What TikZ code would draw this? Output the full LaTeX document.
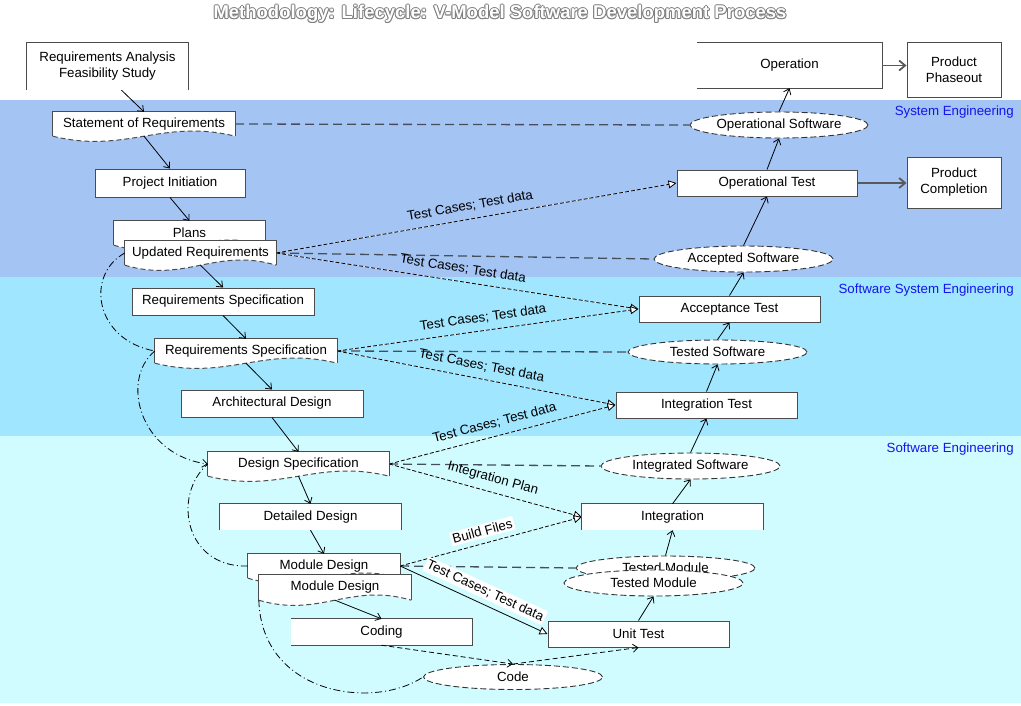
\documentclass[tikz,border=0pt]{standalone}
\usepackage{fontspec}
\setmainfont{Liberation Sans}
\usepackage{tikz}
\usetikzlibrary{positioning}
\usetikzlibrary{shapes.geometric, arrows.meta}
\usetikzlibrary{calc}

\definecolor{sysband}{RGB}{164,196,244}
\definecolor{swsysband}{RGB}{160,230,255}
\definecolor{swband}{RGB}{208,252,255}
\definecolor{flowgray}{RGB}{70,78,92}
\definecolor{bandtext}{RGB}{20,20,235}

\newcommand{\diagfont}{\fontsize{13.3}{16}\selectfont}

\pgfdeclarelayer{bands}
\pgfdeclarelayer{docs}
\pgfsetlayers{bands,docs,main}

\tikzstyle{arrow} = [line width=0.8pt,-{Straight Barb[length=5pt,width=8pt]}]
\tikzstyle{thickarrow} = [line width=1.8pt,draw=black!65,-{Straight Barb[length=6pt,width=10pt]}]
\tikzstyle{testflow} = [line width=0.8pt,preaction={draw=white,solid,-},dash pattern=on 4pt off 2pt,-{Triangle[length=8pt,width=8pt,fill=white]}]
\tikzstyle{testsolid} = [line width=0.8pt,-{Triangle[length=8pt,width=8pt,fill=white]}]
\tikzstyle{objflow} = [line width=1.3pt,draw=flowgray,dash pattern=on 9pt off 5pt]
\tikzstyle{feedback} = [line width=0.8pt,dash pattern=on 7pt off 3pt on 1pt off 3pt]
\tikzstyle{codeflow} = [dash pattern=on 5pt off 3pt]
\tikzstyle{boxline} = [line width=1pt,draw=black!70]
\tikzstyle{process} = [draw=black!70,line width=1pt,fill=white,minimum width=181pt,minimum height=26pt,inner sep=0pt,font=\diagfont]
\tikzstyle{openbox} = [fill=white,minimum width=181pt,minimum height=26pt,inner sep=0pt,font=\diagfont]
\tikzstyle{docnode} = [minimum height=24pt,inner sep=0pt,font=\diagfont]
\tikzstyle{product} = [ellipse,draw=black!80,line width=0.9pt,dash pattern=on 6pt off 3pt,fill=white,minimum width=179pt,minimum height=26pt,inner xsep=-12pt,inner ysep=0pt,font=\diagfont]
\tikzstyle{flowlabel} = [sloped,above=5pt,inner sep=2pt,font=\diagfont]
\tikzstyle{bandlabel} = [anchor=east,inner sep=0pt,text=bandtext,font=\diagfont]
\tikzstyle{titletext} = [inner sep=0pt,font=\fontsize{18.5}{21}\selectfont\bfseries]

% document shape with a wavy dashed bottom edge
\newcommand{\docshape}[1]{%
  \fill[white] (#1.south west) |- (#1.north east) -- (#1.south east)
    .. controls ($(#1.south east)!0.4!(#1.south west)+(0,-18)$) and ($(#1.south west)!0.4!(#1.south east)+(0,18)$) .. (#1.south west) -- cycle;
  \draw[boxline] (#1.south west) |- (#1.north east) -- (#1.south east);
  \draw[boxline,dash pattern=on 5pt off 3pt] (#1.south west)
    .. controls ($(#1.south west)!0.4!(#1.south east)+(0,18)$) and ($(#1.south east)!0.4!(#1.south west)+(0,-18)$) .. (#1.south east);
}

\begin{document}
\begin{tikzpicture}[x=1pt,y=-1pt]
\useasboundingbox (0,0) rectangle (1021,705);

%Bands
\begin{pgfonlayer}{bands}
\fill[sysband] (0,100) rectangle (1021,277);
\fill[swsysband] (0,277) rectangle (1021,436);
\fill[swband] (0,436) rectangle (1021,703);
\end{pgfonlayer}
\node[bandlabel] (syseng) at (1014,112) {System Engineering};
\node[bandlabel] (swsyseng) at (1014,290) {Software System Engineering};
\node[bandlabel] (sweng) at (1014,449) {Software Engineering};

%Title
\coordinate (titlepos) at (500,14);
\foreach \dx/\dy in {-1/0,1/0,0/-1,0/1,-0.7/-0.7,0.7/0.7,-0.7/0.7,0.7/-0.7}
  \node[titletext,text=black!50] at ([shift={(\dx,\dy)}]titlepos) {Methodology: Lifecycle: V-Model Software Development Process};
\node[titletext,text=white] (title) at (titlepos) {Methodology: Lifecycle: V-Model Software Development Process};

%Nodes - left side
\node[openbox,minimum width=161pt,minimum height=47pt,align=center] (reqan) at (107.5,66.5) {Requirements Analysis\\Feasibility Study};
\node[docnode,minimum width=182pt] (sor) at (144,124) {Statement of Requirements};
\node[process,minimum width=150pt,minimum height=28pt] (projinit) at (170,183) {Project Initiation};
\node[docnode,minimum width=151pt] (plans) at (189.5,233) {Plans};
\node[docnode,minimum width=151pt] (updreq) at (200.5,253) {Updated Requirements};
\node[process,minimum width=182pt,minimum height=27pt] (reqspec) at (223,301.5) {Requirements Specification};
\node[docnode,minimum width=182pt] (rsdoc) at (246,351) {Requirements Specification};
\node[process,minimum width=182pt,minimum height=27pt] (archdes) at (272,403.5) {Architectural Design};
\node[docnode,minimum width=181pt] (desspec) at (298.5,464) {Design Specification};
\node[openbox] (detdes) at (310.5,517) {Detailed Design};
\node[docnode,minimum width=152pt] (moddes) at (324,566) {Module Design};
\node[docnode,minimum width=152pt,minimum height=25pt] (moddesdoc) at (335,587.5) {Module Design};
\node[openbox] (coding) at (381.5,632) {Coding};

\begin{pgfonlayer}{docs}
\docshape{sor}
\docshape{plans}
\docshape{updreq}
\docshape{rsdoc}
\docshape{desspec}
\docshape{moddes}
\docshape{moddesdoc}
\end{pgfonlayer}

% open edges
\draw[boxline] (reqan.south west) |- (reqan.north east) -- (reqan.south east);
\draw[boxline] (detdes.south west) |- (detdes.north east) -- (detdes.south east);
\draw[boxline] (coding.north west) -| (coding.south east) -- (coding.south west);

%Nodes - right side
\node[product,minimum height=25pt] (code) at (513,677) {Code};
\node[process] (unittest) at (638.5,634) {Unit Test};
\node[product,minimum height=24pt] (tmodup) at (665.5,568) {Tested Module};
\node[product] (tmod) at (653.5,583) {Tested Module};
\node[openbox] (integ) at (672.5,517) {Integration};
\draw[boxline] (integ.south west) |- (integ.north east) -- (integ.south east);
\node[product] (intsw) at (690.5,466) {Integrated Software};
\node[process] (inttest) at (706.5,405) {Integration Test};
\node[product,minimum height=24pt] (testsw) at (717.5,352) {Tested Software};
\node[process] (acctest) at (729.5,309) {Acceptance Test};
\node[product] (accsw) at (743.5,259) {Accepted Software};
\node[process,minimum width=180pt] (optest) at (767,183) {Operational Test};
\node[product,minimum width=178pt] (opsw) at (779,125) {Operational Software};
\node[openbox,minimum width=185pt,minimum height=45pt] (operation) at (789.5,65.5) {Operation};
\draw[boxline] (operation.north west) -| (operation.south east) -- (operation.south west);
\node[process,minimum width=94pt,minimum height=55pt,align=center] (phaseout) at (954,70) {Product\\Phaseout};
\node[process,minimum width=94pt,minimum height=51pt,align=center] (completion) at (954,182.5) {Product\\Completion};

%Lines - development and test spine
\draw[arrow] ([xshift=14pt]reqan.south) -- (sor.north);
\draw[arrow] (sor.south) -- (projinit.north);
\draw[arrow] (projinit.south) -- (plans.north);
\draw[arrow] (updreq.south) -- (reqspec.north);
\draw[arrow] (reqspec.south) -- (rsdoc.north);
\draw[arrow] (rsdoc.south) -- (archdes.north);
\draw[arrow] (archdes.south) -- (desspec.north);
\draw[arrow] (desspec.south) -- (detdes.north);
\draw[arrow] (detdes.south) -- (moddes.north);
\draw[arrow] (moddesdoc.south) -- (coding.north);
\draw[arrow,codeflow] (coding.south) -- (code.north);
\draw[arrow,codeflow] (code.north) -- (unittest.south);
\draw[arrow] (unittest.north) -- (tmod.south);
\draw[arrow] (tmodup.north) -- (integ.south);
\draw[arrow] (integ.north) -- (intsw.south);
\draw[arrow] (intsw.north) -- (inttest.south);
\draw[arrow] (inttest.north) -- (testsw.south);
\draw[arrow] (testsw.north) -- (acctest.south);
\draw[arrow] (acctest.north) -- (accsw.south);
\draw[arrow] (accsw.north) -- (optest.south);
\draw[arrow] (optest.north) -- (opsw.south);
\draw[arrow] (opsw.north) -- (operation.south);
\draw[thickarrow] (operation.east) -- (operation.east -| phaseout.west);
\draw[thickarrow] (optest.east) -- (optest.east -| completion.west);

%Lines - products handed over
\draw[objflow] (sor.east) -- (opsw.west);
\draw[objflow] (updreq.east) -- (accsw.west);
\draw[objflow] (rsdoc.east) -- (testsw.west);
\draw[objflow] (desspec.east) -- (intsw.west);
\draw[objflow] (moddes.east) -- (tmodup.west);

%Lines - test cases
\draw[testflow] (updreq.east) -- node[flowlabel,pos=0.49] {Test Cases; Test data} (optest.west);
\draw[testflow] (updreq.east) -- node[flowlabel,pos=0.51] {Test Cases; Test data} (acctest.west);
\draw[testflow] (rsdoc.east) -- node[flowlabel,pos=0.49] {Test Cases; Test data} (acctest.west);
\draw[testflow] (rsdoc.east) -- node[flowlabel,pos=0.51] {Test Cases; Test data} (inttest.west);
\draw[testflow] (desspec.east) -- node[flowlabel,pos=0.48] {Test Cases; Test data} (inttest.west);
\draw[testflow] (desspec.east) -- node[flowlabel,pos=0.52] {Integration Plan} (integ.west);
\draw[testflow] (moddes.east) -- node[flowlabel,fill=white,pos=0.47] {Build Files} (integ.west);
\draw[testsolid] (moddes.east) -- node[flowlabel,fill=white,pos=0.54] {Test Cases; Test data} (unittest.west);

%Lines - feedback
\draw[feedback] (updreq.west) .. controls +(-40,22) and +(-60,-11) .. (rsdoc.west);
\draw[feedback,-{Straight Barb[length=5pt,width=8pt]}] (rsdoc.west) .. controls +(-35,29) and +(-68,-9) .. (desspec.west);
\draw[feedback] (moddes.west) .. controls +(-63,2) and +(-36,31) .. (desspec.west);
\draw[feedback] (moddesdoc.south west) .. controls +(3,95) and +(-49,33) .. (code.west);
\end{tikzpicture}
\end{document}
